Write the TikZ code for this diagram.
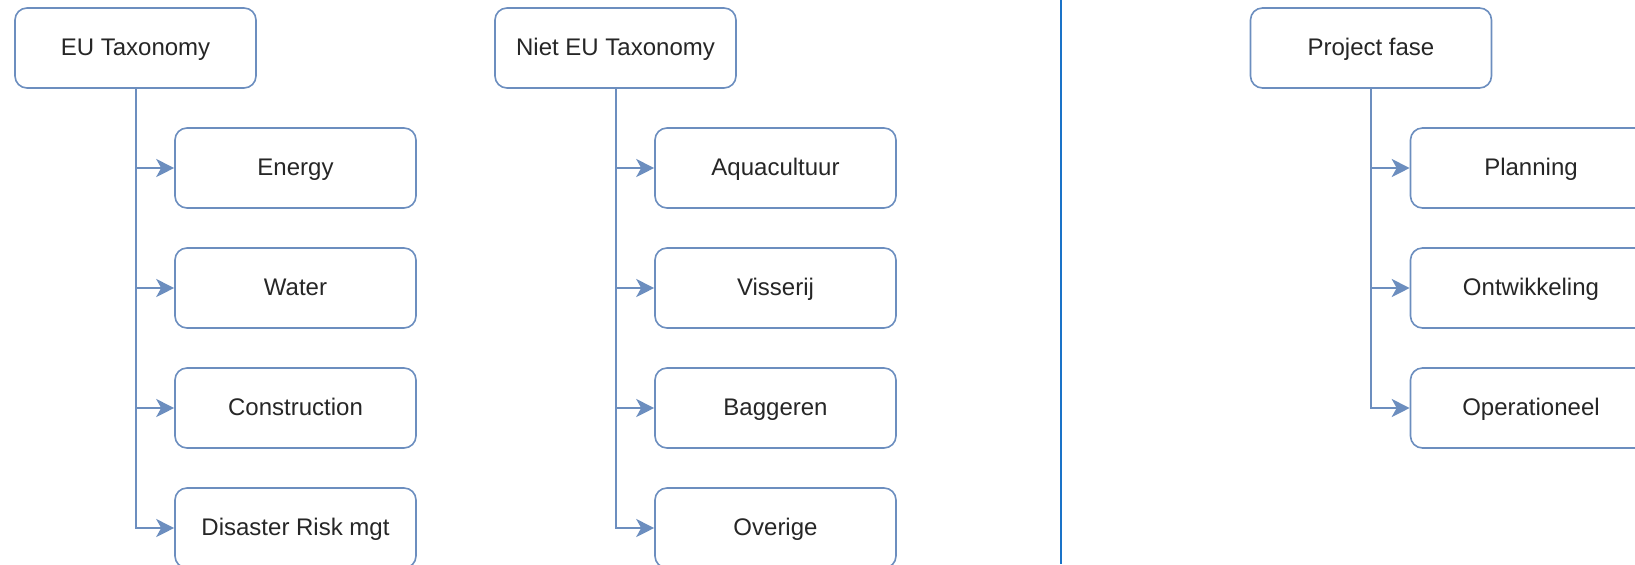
\documentclass[tikz,border=0pt]{standalone}
\usepackage{fontspec}
\setmainfont{Liberation Sans}
\usetikzlibrary{positioning, arrows.meta}

\definecolor{boxline}{HTML}{6C8EBF}
\definecolor{sepline}{HTML}{1A73C8}
\definecolor{labeltext}{HTML}{262626}

\tikzset{
    box/.style={rectangle, rounded corners=6pt, draw=boxline, line width=0.8pt,
        fill=white, minimum width=120.5pt, minimum height=40pt,
        text height=9.5pt, text depth=2.5pt,
        text=labeltext, font=\fontsize{12}{14}\selectfont},
    conn/.style={draw=boxline, line width=1pt,
        -{Stealth[length=9pt, width=9pt, inset=2.5pt]}},
    branch/.style={to path={|- (\tikztotarget)}},
}

\begin{document}
\begin{tikzpicture}[x=0.5pt, y=-0.5pt, node distance=60pt]
        \clip (0,0) rectangle (1635,564);
        \fill[white] (0,0) rectangle (1635,564);

        % EU taxonomy
        \node[box] (eu) at (135.5,48) {EU Taxonomy};
        \node[box] (energy) at (295.5,168) {Energy};
        \node[box, below of=energy] (water) {Water};
        \node[box, below of=water] (construction) {Construction};
        \node[box, below of=construction] (disaster) {Disaster Risk mgt};

        % niet EU taxonomy
        \node[box] (niet) at (615.5,48) {Niet EU Taxonomy};
        \node[box] (aqua) at (775.5,168) {Aquacultuur};
        \node[box, below of=aqua] (visserij) {Visserij};
        \node[box, below of=visserij] (baggeren) {Baggeren};
        \node[box, below of=baggeren] (overige) {Overige};

        % project fase
        \node[box] (fase) at (1371,48) {Project fase};
        \node[box] (planning) at (1531,168) {Planning};
        \node[box, below of=planning] (ontwikkeling) {Ontwikkeling};
        \node[box, below of=ontwikkeling] (operationeel) {Operationeel};

        \path
            (eu.south) edge[conn, branch] (energy.west)
            (eu.south) edge[conn, branch] (water.west)
            (eu.south) edge[conn, branch] (construction.west)
            (eu.south) edge[conn, branch] (disaster.west)
            (niet.south) edge[conn, branch] (aqua.west)
            (niet.south) edge[conn, branch] (visserij.west)
            (niet.south) edge[conn, branch] (baggeren.west)
            (niet.south) edge[conn, branch] (overige.west)
            (fase.south) edge[conn, branch] (planning.west)
            (fase.south) edge[conn, branch] (ontwikkeling.west)
            (fase.south) edge[conn, branch] (operationeel.west)
            ;

        \coordinate (septop) at (1061,0);
        \coordinate (sepbot) at (1061,564);
        \draw[sepline, line width=0.75pt] (septop) -- (sepbot);
    \end{tikzpicture}
\end{document}
